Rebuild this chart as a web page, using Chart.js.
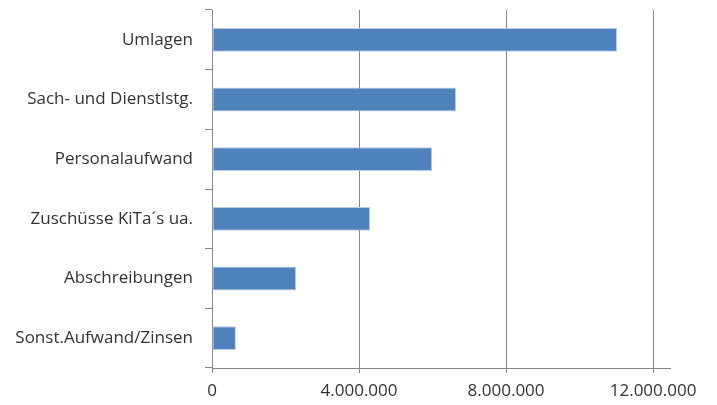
<!DOCTYPE html>
<html>
<head>
<meta charset="utf-8">
<script src="https://cdn.jsdelivr.net/npm/chart.js@4"></script>
<style>
  html, body { margin: 0; padding: 0; background: #fff; }
  #wrap { width: 717px; height: 405px; }
</style>
</head>
<body>
<div id="wrap"><canvas id="kosten"></canvas></div>
<script>
// categories, top to bottom
var categories = ['Umlagen', 'Sach- und Dienstlstg.', 'Personalaufwand', 'Zuschüsse KiTa´s ua.', 'Abschreibungen', 'Sonst.Aufwand/Zinsen'];
var amounts = [11020000, 6640000, 5990000, 4300000, 2290000, 650000];
var tickValues = [0, 4000000, 8000000, 12000000];

function formatDe(v) {
    return String(v).replace(/\B(?=(\d{3})+(?!\d))/g, '.');
}

var axisGrey = '#868686';
var textCol = '#333333';

var myChart = new Chart(document.getElementById('kosten'), {
    type: 'bar',
    data: {
        labels: categories,
        datasets: [{
            data: amounts,
            backgroundColor: '#4F81BD',
            borderColor: '#B9CDE5',
            borderWidth: 1,
            borderSkipped: false,
            barPercentage: 0.8,
            categoryPercentage: 0.5
        }]
    },
    options: {
        indexAxis: 'y',
        responsive: true,
        maintainAspectRatio: false,
        animation: false,
        layout: { padding: { top: 10, right: 47, left: 0, bottom: 0 } },
        plugins: { legend: { display: false }, tooltip: { enabled: false } },
        scales: {
            x: {
                min: 0,
                max: 12460000,
                afterBuildTicks: function(scale) {
                    scale.ticks = tickValues.map(function(v) { return { value: v }; });
                },
                afterFit: function(scale) { scale.height = 37; },
                ticks: {
                    color: textCol,
                    font: { family: 'Open Sans', size: 17 },
                    padding: 8,
                    maxRotation: 0,
                    callback: function(v) { return formatDe(v); }
                },
                grid: { color: axisGrey, lineWidth: 1, tickLength: 5 },
                border: { color: axisGrey }
            },
            y: {
                afterFit: function(scale) {
                    scale.width = 212;
                    scale.paddingTop = 0;
                    scale.paddingBottom = 0;
                },
                ticks: {
                    color: textCol,
                    font: { family: 'Open Sans', size: 17 },
                    padding: 12
                },
                grid: { offset: true, drawOnChartArea: false, color: axisGrey, tickLength: 7 },
                border: { color: axisGrey }
            }
        }
    }
});
</script>
</body>
</html>
